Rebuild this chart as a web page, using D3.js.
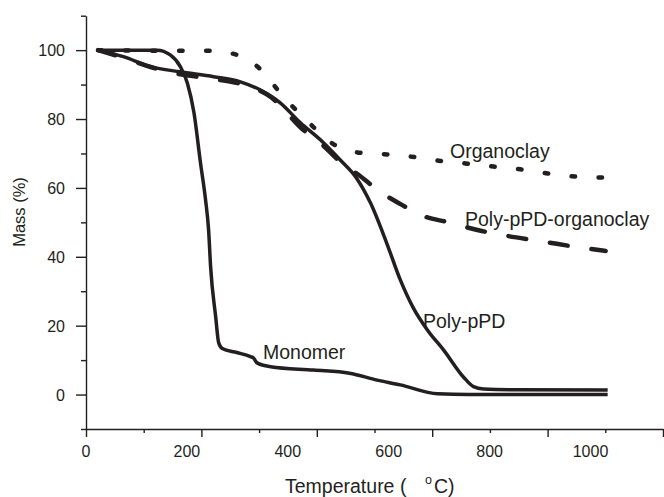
<!doctype html>
<html>
<head>
<meta charset="utf-8">
<title>TGA curves</title>
<style>
  body { margin: 0; background: #fff; }
  text { font-family: "Liberation Sans", Arial, sans-serif; fill: #231f20; }
  .axis path, .axis line { stroke: #231f20; stroke-width: 1.4; }
  .curve { fill: none; stroke: #231f20; }
</style>
</head>
<body>
<div id="plot"></div>
<script src="https://d3js.org/d3.v7.min.js"></script>
<script>

// temperature (deg C), mass (%)
var monomer = [[30,100],[90,100],[142,100],[168,98.6],[188,95.2],[202,90.4],[215,81.8],[228,67.2],
  [238,56.5],[244,47.8],[248,37.1],[258,22.6],[264,15],[271,13.4],[300,12.2],[327,11],[333,10.6],
  [340,9.2],[367,8.1],[452,7.1],[523,6.2],[578,4.2],[624,2.8],[698,0.2],[760,0],[1035,0]];

var polyPPD = [[25,100],[75,98.1],[129,95.2],[188,93.7],[254,92.3],[307,90.8],[347,88.4],[386,84.7],
  [426,78.9],[466,73.9],[505,68.1],[537,62.9],[565,55.6],[597,44],[624,33.3],[650,25.1],[678,18.7],
  [710,12.9],[749,5.1],[769,2.3],[789,1.6],[850,1.4],[1035,1.3]];

var polyPPDClay = [[25,100],[75,97.8],[129,95.1],[163,93.7],[254,91.6],[307,90.2],[367,86.4],[432,76.8],
  [466,73],[501,68.1],[541,63.8],[585,58.8],[628,55],[674,51.6],[717,50.1],[779,47.7],[827,46.3],
  [912,44.3],[975,42.8],[1031,41.7]];

var organoclay = [[25,100],[194,99.8],[248,99.8],[301,98.6],[352,93.7],[390,86.8],[436,80],[484,73.4],
  [539,70.3],[591,69.8],[644,69.1],[700,67.9],[753,67.1],[809,66.2],[862,65.4],[916,64.2],[971,63.3],[1024,63]];

var xLabels = [0, 200, 400, 600, 800, 1000];
var xMinor = [100, 300, 500, 700, 900];
var yMajor = [0, 20, 40, 60, 80, 100];
var yMinor = [-10, 10, 30, 50, 70, 90, 110];

var W = 664, H = 497;

var svg = d3.select("#plot").append("svg")
  .attr("width", W)
  .attr("height", H);

svg.append("rect").attr("width", W).attr("height", H).attr("fill", "#fff");

// data / label scale
var x = d3.scaleLinear().domain([0, 1000]).range([85.5, 590]);
// the tick marks on the original axis sit on their own spacing
var xTick = d3.scaleLinear().domain([0, 1000]).range([86, 663]);
var y = d3.scaleLinear().domain([-10, 110]).range([429, 15.7]);

// y axis
svg.append("g")
  .attr("class", "axis")
  .attr("transform", "translate(86,0)")
  .call(d3.axisLeft(y).tickValues(yMajor).tickSize(10).tickSizeOuter(0).tickPadding(11))
  .call(function (g) {
    g.selectAll("text").style("font-size", "16px").attr("dy", "0.36em");
  });

svg.append("g")
  .attr("class", "axis")
  .attr("transform", "translate(86,0)")
  .call(d3.axisLeft(y).tickValues(yMinor).tickSize(5).tickFormat(""))
  .call(function (g) { g.select(".domain").remove(); });

// x axis line + ticks
svg.append("g")
  .attr("class", "axis")
  .attr("transform", "translate(0,429)")
  .call(d3.axisBottom(xTick).tickValues(xLabels).tickSize(8).tickSizeOuter(0).tickFormat(""));

svg.append("g")
  .attr("class", "axis")
  .attr("transform", "translate(0,429)")
  .call(d3.axisBottom(xTick).tickValues(xMinor).tickSize(4).tickFormat(""))
  .call(function (g) { g.select(".domain").remove(); });

// x labels
svg.append("g")
  .attr("class", "axis")
  .attr("transform", "translate(0,429)")
  .call(d3.axisBottom(x).tickValues(xLabels).tickSize(0).tickPadding(16.5).tickFormat(d3.format("d")))
  .call(function (g) {
    g.select(".domain").remove();
    g.selectAll("text").style("font-size", "16px");
  });

// axis titles
svg.append("text")
  .attr("transform", "translate(25,212) rotate(-90)")
  .attr("text-anchor", "middle")
  .style("font-size", "16.5px")
  .text("Mass (%)");

svg.append("text")
  .attr("x", 285)
  .attr("y", 493)
  .style("font-size", "19.5px")
  .text("Temperature (");

svg.append("text")
  .attr("x", 434)
  .attr("y", 493)
  .style("font-size", "19.5px")
  .text("C)");

svg.append("text")
  .attr("x", 425)
  .attr("y", 484)
  .style("font-size", "12.5px")
  .text("o");

// curves
var line = d3.line()
  .x(function (d) { return x(d[0]); })
  .y(function (d) { return y(d[1]); })
  .curve(d3.curveMonotoneX);

svg.append("path").datum(organoclay)
  .attr("class", "curve")
  .attr("d", line)
  .attr("stroke-width", 4.5)
  .attr("stroke-linecap", "round")
  .attr("stroke-dasharray", "3.5,23.5");

svg.append("path").datum(polyPPDClay)
  .attr("class", "curve")
  .attr("d", line)
  .attr("stroke-width", 4.5)
  .attr("stroke-linecap", "round")
  .attr("stroke-dasharray", "18,24");

svg.append("path").datum(polyPPD)
  .attr("class", "curve")
  .attr("d", line)
  .attr("stroke-width", 3.5);

svg.append("path").datum(monomer)
  .attr("class", "curve")
  .attr("d", line)
  .attr("stroke-width", 3.5);

// curve labels
var labels = [
  { t: "Organoclay", x: 450, y: 158 },
  { t: "Poly-pPD-organoclay", x: 465, y: 226 },
  { t: "Poly-pPD", x: 423, y: 328 },
  { t: "Monomer", x: 263, y: 359 }
];

svg.selectAll(".lbl")
  .data(labels)
  .enter().append("text")
  .attr("class", "lbl")
  .attr("x", function (d) { return d.x; })
  .attr("y", function (d) { return d.y; })
  .style("font-size", "19.5px")
  .text(function (d) { return d.t; });

</script>
</body>
</html>
